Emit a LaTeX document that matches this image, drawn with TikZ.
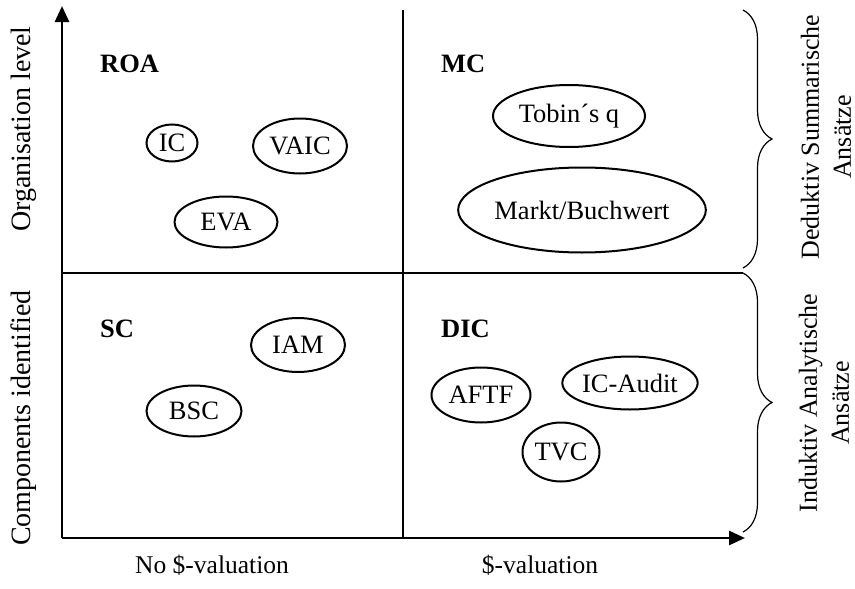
\documentclass[tikz,border=0pt]{standalone}
\usepackage{fontspec}
\setmainfont{Liberation Serif}
\usetikzlibrary{arrows.meta,shapes.geometric,decorations.pathreplacing}
\begin{document}
\begin{tikzpicture}[x=1pt,y=-1pt,
  axis/.style={line width=2.8pt},
  arrowaxis/.style={axis,-{Triangle[length=16pt,width=14pt]}},
  bubble/.style={ellipse,draw,line width=2pt,inner sep=0pt,
    font=\fontsize{26.5}{30}\selectfont},
  quadlabel/.style={anchor=base west,inner sep=0pt,font=\fontsize{26.5}{30}\selectfont\bfseries},
  axislabel/.style={font=\fontsize{25.5}{30}\selectfont},
  vlabel/.style={rotate=90,font=\fontsize{28}{32}\selectfont},
  sidelabel/.style={rotate=90,align=center,font=\fontsize{26}{32}\selectfont},
  bracket/.style={decorate,decoration={brace,amplitude=29pt},line width=1.2pt}]

\useasboundingbox (0,0) rectangle (855,589);

% axes and quadrant dividers
\coordinate (O) at (62,538);
\coordinate (ytip) at (62,6);
\coordinate (xtip) at (745,538);
\coordinate (vtop) at (403,10);
\coordinate (vbot) at (403,538);
\coordinate (hleft) at (62,273);
\coordinate (hright) at (743,273);

\draw[arrowaxis] (O) -- (ytip);
\draw[arrowaxis] (O) -- (xtip);
\draw[axis] (vtop) -- (vbot);
\draw[axis] (hleft) -- (hright);

% quadrant titles
\node[quadlabel] (roa) at (100,72) {ROA};
\node[quadlabel] (mc) at (441,72) {MC};
\node[quadlabel] (sc) at (100,337) {SC};
\node[quadlabel] (dic) at (441,337) {DIC};

% measures
\node[bubble,minimum width=51pt,minimum height=37pt] (ic) at (172,143) {IC};
\node[bubble,minimum width=94pt,minimum height=55pt] (vaic) at (300,146) {VAIC};
\node[bubble,minimum width=103pt,minimum height=51pt] (eva) at (226,222) {EVA};
\node[bubble,minimum width=152pt,minimum height=62pt] (tobin) at (569,116) {Tobin´s q};
\node[bubble,minimum width=209pt,minimum height=85pt] (markt) at (582,210) {Markt/Buchwert};
\node[bubble,minimum width=94pt,minimum height=54pt] (iam) at (298,345) {IAM};
\node[bubble,minimum width=95pt,minimum height=51pt] (bsc) at (194,411) {BSC};
\node[bubble,minimum width=99pt,minimum height=55pt] (aftf) at (481,395) {AFTF};
\node[bubble,minimum width=124pt,minimum height=53pt] (icaudit) at (630,383) {IC-Audit};
\node[bubble,minimum width=77pt,minimum height=59pt] (tvc) at (561,452) {TVC};

% axis labels
\node[vlabel] (orglevel) at (24,129) {Organisation level};
\node[vlabel] (components) at (24,418) {Components identified};
\node[axislabel] (noval) at (212,565) {No \$-valuation};
\node[axislabel] (val) at (540,565) {\$-valuation};

% braces on the right
\coordinate (bt1) at (743,10);
\coordinate (bt2) at (743,268);
\coordinate (bb1) at (743,273);
\coordinate (bb2) at (743,532);
\draw[bracket] (bt1) -- (bt2);
\draw[bracket] (bb1) -- (bb2);

\node[sidelabel] (deduktiv) at (826,137) {Deduktiv Summarische\\Ansätze};
\node[sidelabel] (induktiv) at (824,403) {Induktiv Analytische\\Ansätze};
\end{tikzpicture}
\end{document}
